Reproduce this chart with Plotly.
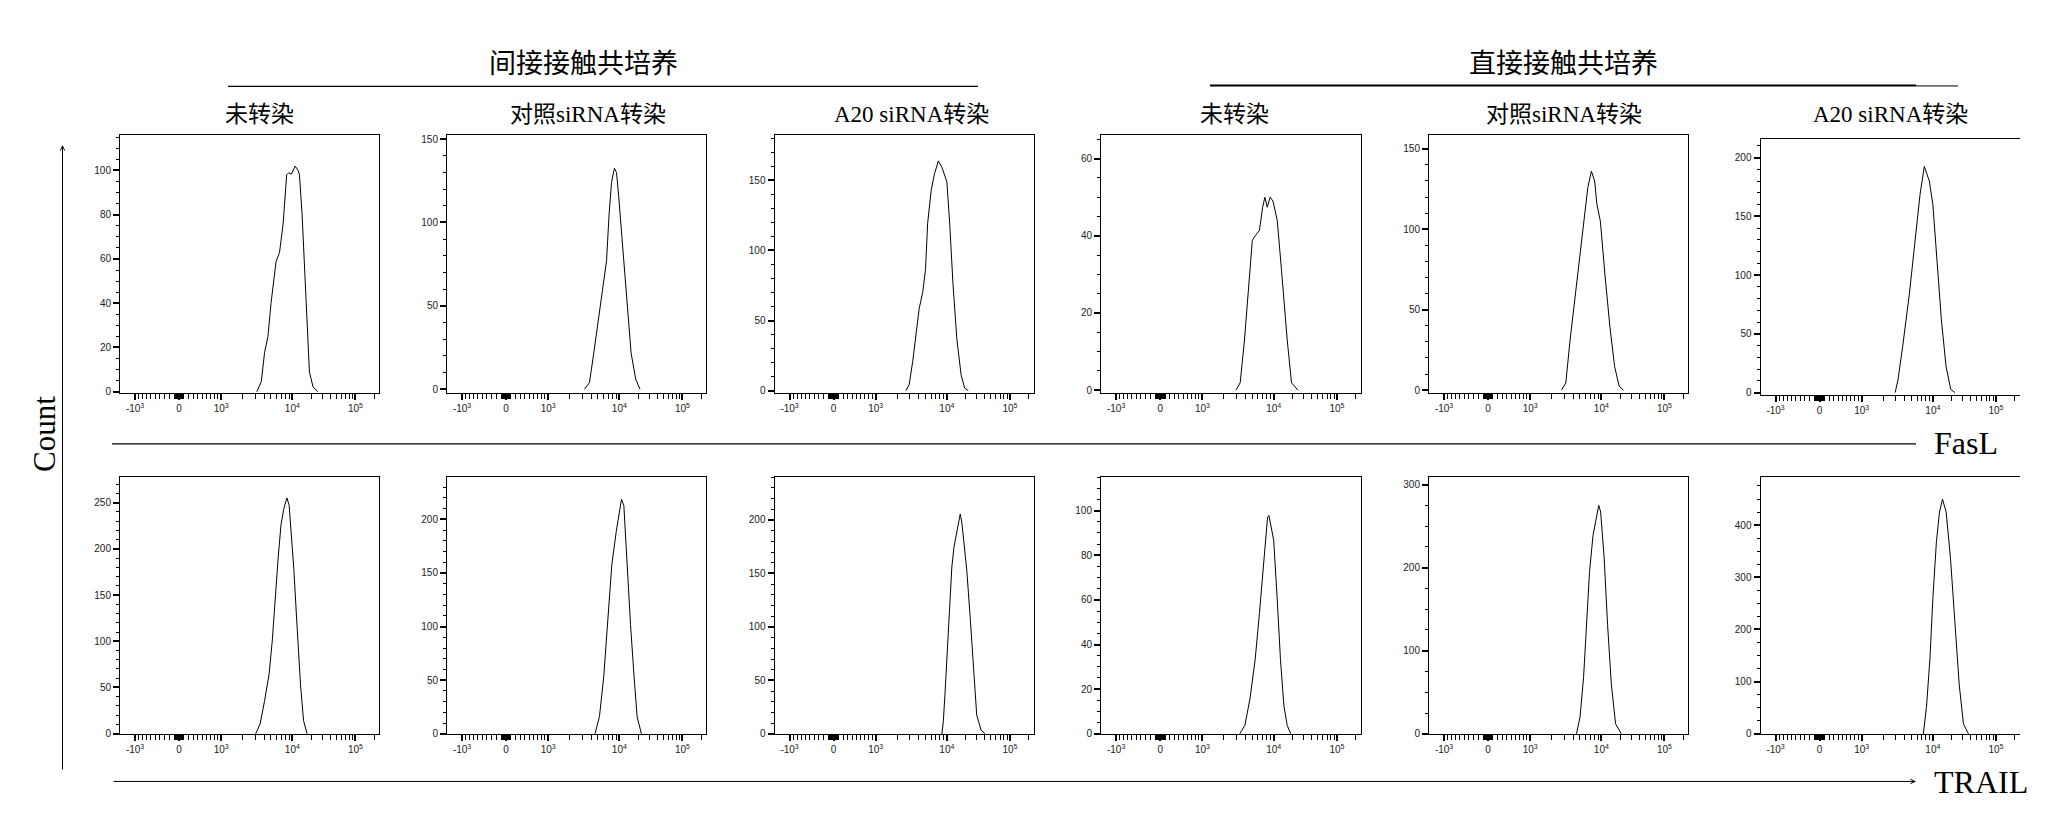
import numpy as np
import plotly.graph_objects as go

W, H = 2065, 837

# ---------------- text ----------------
group_titles = ["间接接触共培养", "直接接触共培养"]
col_titles = ["未转染", "对照siRNA转染", "A20 siRNA转染", "未转染", "对照siRNA转染", "A20 siRNA转染"]
row_labels = ["FasL", "TRAIL"]
y_label = "Count"
x_tick_text = ["-10<sup>3</sup>", "0", "10<sup>3</sup>", "10<sup>4</sup>", "10<sup>5</sup>"]
x_tick_values = [-1000, 0, 1000, 10000, 100000]

# ---------------- data (x in display-decade units, y = cell count) ----------------
fasl_x = [
    [3.50, 3.563, 3.61, 3.657, 3.70, 3.75, 3.77, 3.82, 3.87, 3.92, 3.95, 3.986, 4.024, 4.04, 4.08, 4.10, 4.137, 4.175, 4.21, 4.24, 4.29, 4.36],
    [3.51, 3.58, 3.64, 3.73, 3.82, 3.855, 3.89, 3.93, 3.96, 3.99, 4.04, 4.10, 4.165, 4.23, 4.29],
    [3.424, 3.47, 3.52, 3.566, 3.61, 3.66, 3.70, 3.73, 3.78, 3.826, 3.88, 3.93, 3.97, 4.0, 4.04, 4.085, 4.14, 4.20, 4.25, 4.30],
    [3.47, 3.53, 3.59, 3.66, 3.70, 3.74, 3.80, 3.845, 3.876, 3.91, 3.95, 3.99, 4.05, 4.11, 4.19, 4.25, 4.34],
    [3.44, 3.50, 3.56, 3.626, 3.686, 3.75, 3.81, 3.86, 3.906, 3.937, 3.986, 4.05, 4.12, 4.186, 4.25, 4.31],
    [3.47, 3.51, 3.575, 3.67, 3.76, 3.82, 3.88, 3.95, 4.0, 4.06, 4.12, 4.185, 4.25, 4.31],
]
fasl_y = [
    [0, 4.5, 17.8, 25, 40, 55, 58.7, 63, 75.8, 98, 99, 98.3, 101, 102, 100, 98, 80, 53.5, 23.8, 8.9, 2.2, 0],
    [0, 4, 21.7, 49, 77, 104.5, 124, 132.5, 130, 116, 88.8, 53, 21.7, 6, 0],
    [0, 4.2, 20.7, 39.5, 58.3, 70, 86.5, 119.5, 143, 154.7, 164, 159.5, 153.6, 149, 119.5, 77, 37, 11.3, 1.8, 0],
    [0, 1.9, 13, 28.5, 38.8, 40, 41.4, 47.4, 50, 47.4, 50, 49, 44, 31, 13, 1.9, 0],
    [0, 4.5, 31, 56, 80.7, 105, 126, 136, 130, 115.6, 105, 72, 39.5, 14.8, 2.5, 0],
    [0, 11, 39, 84, 135, 168.5, 192.4, 180, 160, 112, 62, 22.5, 3, 0],
]
trail_x = [
    [3.485, 3.547, 3.61, 3.673, 3.717, 3.755, 3.80, 3.84, 3.88, 3.924, 3.955, 3.975, 4.02, 4.07, 4.114, 4.157, 4.207],
    [3.657, 3.72, 3.78, 3.845, 3.894, 3.956, 4.0, 4.03, 4.063, 4.106, 4.157, 4.207, 4.25, 4.31],
    [3.93, 3.95, 3.975, 4.0, 4.037, 4.07, 4.10, 4.14, 4.165, 4.188, 4.21, 4.245, 4.28, 4.33, 4.377, 4.42, 4.48, 4.54],
    [3.524, 3.595, 3.667, 3.74, 3.80, 3.85, 3.88, 3.914, 3.933, 3.962, 4.0, 4.05, 4.095, 4.143, 4.19, 4.24],
    [3.65, 3.70, 3.75, 3.79, 3.834, 3.883, 3.93, 3.963, 3.99, 4.04, 4.087, 4.14, 4.20, 4.28],
    [3.866, 3.91, 3.96, 4.0, 4.05, 4.093, 4.136, 4.187, 4.248, 4.31, 4.37, 4.43, 4.50],
]
trail_y = [
    [0, 10.7, 35.8, 64.4, 100, 146.8, 189.8, 225.6, 243.5, 255, 247, 225.6, 179, 111, 53.7, 14.3, 0],
    [0, 16, 53, 114.6, 157.8, 188.5, 207, 218.8, 213, 157.8, 102, 53, 16, 0],
    [0, 11.4, 39, 70, 116, 156, 174.6, 188.5, 196, 205.5, 197.8, 177.8, 153, 107, 54.5, 17.6, 3.7, 0],
    [0, 3.7, 15.6, 33.3, 54, 73.3, 85, 97, 97.8, 92.6, 86.7, 60, 33.3, 12.6, 3.7, 0],
    [0, 20, 68, 131.6, 195.4, 239, 263, 275, 267, 211, 131.6, 60, 12, 0],
    [0, 50.8, 146, 260, 368, 425, 449.5, 425, 336, 209.5, 95, 19, 0],
]

# y-axis settings per panel: (range min, range max, major step, minor step)
fasl_yaxis = [(-0.7, 116, 20, 5), (-2.4, 152.4, 50, 10), (-1.9, 182.4, 50, 10),
              (-0.8, 66.1, 20, 5), (-1.9, 158.5, 50, 10), (-2.2, 215.7, 50, 10)]
trail_yaxis = [(-0.8, 277.5, 50, 10), (-0.6, 239.4, 50, 10), (-0.5, 240, 50, 10),
               (-0.3, 115, 20, 5), (-0.8, 309, 100, 25), (-1.3, 492, 100, 25)]


# ---------------- biexponential-like display scale ----------------
def disp(v):
    v = float(v)
    if v >= 10000:
        return 4 + 0.887 * (np.log10(v) - 4)
    if v >= 1000:
        return np.log10(v)
    if v >= 0:
        return 2.408 + 0.592 * np.arcsinh(v / 1000) / np.arcsinh(1)
    return 2.408 - 0.619 * np.arcsinh(-v / 1000) / np.arcsinh(1)


major_x = [disp(v) for v in x_tick_values]
minor_vals = []
for k in range(1, 10):
    minor_vals += [k * 10, -k * 10, k * 100, -k * 100, k * 1000, k * 10000]
minor_vals += [200000]
minor_x = sorted(disp(v) for v in minor_vals if v not in x_tick_values)
x_range = [1.577, 5.218]

# ---------------- layout geometry (pixels) ----------------
col_px = [(112, 371), (439, 698), (766.5, 1025.5), (1093, 1352.5), (1421, 1680), (1752.5, 2011.5)]
row_px = [[(127, 387)] * 5 + [(131, 389)], [(471.5, 730.7)] * 6]

TICKFONT = dict(family="Liberation Sans Narrow, Liberation Sans, Arial", size=10, color="#222")
SERIF_CJK = "Liberation Serif, Times New Roman, Noto Sans CJK SC"

fig = go.Figure()
layout = dict(width=W, height=H, margin=dict(l=0, r=0, t=0, b=0), autosize=False,
              paper_bgcolor="white", plot_bgcolor="white", showlegend=False)

idx = 0
for r, (xs, ys, yax) in enumerate([(fasl_x, fasl_y, fasl_yaxis), (trail_x, trail_y, trail_yaxis)]):
    for c in range(6):
        idx += 1
        sfx = "" if idx == 1 else str(idx)
        fig.add_trace(go.Scatter(x=xs[c], y=ys[c], mode="lines",
                                 line=dict(color="black", width=1),
                                 xaxis="x" + sfx, yaxis="y" + sfx, hoverinfo="skip"))
        x0, x1 = col_px[c]
        t, b = row_px[r][c]
        ymin, ymax, major, minor = yax[c]
        layout["xaxis" + sfx] = dict(
            domain=[x0 / W, x1 / W], anchor="y" + sfx, range=x_range,
            showgrid=False, zeroline=False, showline=True, linecolor="black", linewidth=1,
            mirror=True, ticks="outside", ticklen=6, tickwidth=2, tickcolor="black",
            tickmode="array", tickvals=major_x, ticktext=x_tick_text, tickfont=TICKFONT,
            minor=dict(tickmode="array", tickvals=minor_x, ticks="outside", ticklen=5,
                       tickwidth=1, tickcolor="black", showgrid=False),
        )
        layout["yaxis" + sfx] = dict(
            domain=[1 - b / H, 1 - t / H], anchor="x" + sfx, range=[ymin, ymax],
            showgrid=False, zeroline=False, showline=True, linecolor="black", linewidth=1,
            mirror=(c != 5), ticks="outside", ticklen=6, tickwidth=2, tickcolor="black",
            tickmode="linear", tick0=0, dtick=major, tickfont=TICKFONT,
            minor=dict(tickmode="linear", tick0=0, dtick=minor, ticks="outside", ticklen=3,
                       tickwidth=1, tickcolor="black", showgrid=False),
        )

fig.update_layout(**layout)


def px(x):
    return x / W


def py(y):
    return 1 - y / H


annotations = []
# group titles
for text, cx in zip(group_titles, [575, 1555]):
    annotations.append(dict(text=text, x=px(cx), y=py(55), xref="paper", yref="paper",
                            showarrow=False, xanchor="center", yanchor="middle",
                            font=dict(family=SERIF_CJK, size=27, color="black")))
# column titles
for text, cx in zip(col_titles, [251, 580, 903, 1226, 1556, 1882]):
    annotations.append(dict(text=text, x=px(cx), y=py(106), xref="paper", yref="paper",
                            showarrow=False, xanchor="center", yanchor="middle",
                            font=dict(family=SERIF_CJK, size=23, color="black")))
# row (marker) labels
for text, cy in zip(row_labels, [437, 779]):
    annotations.append(dict(text=text, x=px(1924), y=py(cy), xref="paper", yref="paper",
                            showarrow=False, xanchor="left", yanchor="middle",
                            font=dict(family=SERIF_CJK, size=32, color="black")))
# y label
annotations.append(dict(text=y_label, x=px(37), y=py(428), xref="paper", yref="paper",
                        showarrow=False, textangle=-90, xanchor="center", yanchor="middle",
                        font=dict(family=SERIF_CJK, size=31, color="black")))
# arrows
annotations.append(dict(text="", x=px(54.5), y=py(137), xref="paper", yref="paper",
                        showarrow=True, ax=0, ay=626, axref="pixel", ayref="pixel",
                        arrowhead=5, arrowsize=0.9, arrowwidth=1, arrowcolor="black", standoff=0))
annotations.append(dict(text="", x=px(1908), y=py(778), xref="paper", yref="paper",
                        showarrow=True, ax=-1804, ay=0, axref="pixel", ayref="pixel",
                        arrowhead=5, arrowsize=0.9, arrowwidth=1, arrowcolor="black", standoff=0))

shapes = [
    dict(type="line", xref="paper", yref="paper", x0=px(220), x1=px(970), y0=py(78), y1=py(78),
         line=dict(color="black", width=1.3)),
    dict(type="line", xref="paper", yref="paper", x0=px(1202), x1=px(1908), y0=py(77), y1=py(77),
         line=dict(color="black", width=2)),
    dict(type="line", xref="paper", yref="paper", x0=px(1908), x1=px(1950), y0=py(77.5), y1=py(77.5),
         line=dict(color="black", width=1)),
    dict(type="line", xref="paper", yref="paper", x0=px(104), x1=px(1908), y0=py(438), y1=py(438),
         line=dict(color="black", width=1.2)),
]

fig.update_layout(annotations=annotations, shapes=shapes)
fig.write_html("out.html")
